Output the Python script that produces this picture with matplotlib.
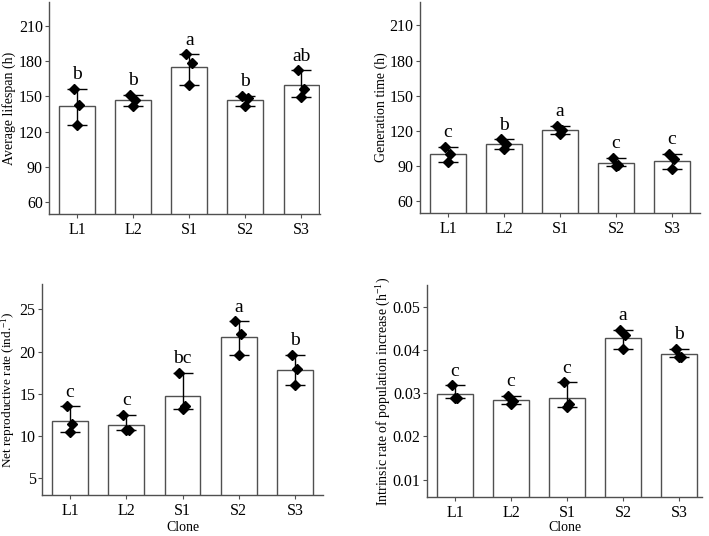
import numpy as np
import matplotlib
matplotlib.use('Agg')
import matplotlib.pyplot as plt
from matplotlib.transforms import blended_transform_factory

plt.rcParams['font.family'] = ['Liberation Serif', 'DejaVu Serif']
plt.rcParams['mathtext.default'] = 'regular'

clones = ['L1', 'L2', 'S1', 'S2', 'S3']

# replicate values (3 per clone)
lifespan = [[156.2, 142.8, 125.8],
            [151.4, 146.5, 141.4],
            [185.5, 178.4, 159.9],
            [150.5, 148.5, 141.4],
            [172.1, 156.2, 149.1]]
lifespan_letters = ['b', 'b', 'a', 'b', 'ab']

gentime = [[106.3, 100.0, 93.5],
           [112.9, 109.2, 104.9],
           [124.2, 121.1, 117.7],
           [97.3, 90.7, 90.1],
           [100.7, 96.1, 87.3]]
gentime_letters = ['c', 'b', 'a', 'c', 'c']

netrep = [[13.5, 11.4, 10.5],
          [12.5, 10.7, 10.7],
          [17.5, 13.5, 13.2],
          [23.6, 22.1, 19.6],
          [19.6, 17.9, 16.0]]
netrep_letters = ['c', 'c', 'bc', 'a', 'b']

intrinsic = [[0.0318, 0.0289, 0.0289],
             [0.0294, 0.0283, 0.0275],
             [0.0325, 0.0275, 0.0269],
             [0.0446, 0.0435, 0.0402],
             [0.0403, 0.0384, 0.0383]]
intrinsic_letters = ['c', 'c', 'c', 'a', 'b']

jitter = [-0.06, 0.04, 0.0]
edge = '#505050'

W, H = 709, 536
fig = plt.figure(figsize=(W / 100, H / 100), dpi=100)


def do_panel(ax, reps, letters, ylabel, ylim, yticks, xlim, label_x,
             fmt=None, xlabel=None, label_size=10):
    reps = np.array(reps)
    x = np.arange(len(clones))
    means = reps.mean(axis=1)
    lo = means - reps.min(axis=1)
    hi = reps.max(axis=1) - means
    ax.bar(x, means, width=0.64, color='white', edgecolor=edge, linewidth=1.0, zorder=1)
    ax.errorbar(x, means, yerr=[lo, hi], fmt='none', ecolor='black',
                elinewidth=1.0, capsize=7, capthick=1.0, zorder=2)
    for i in range(len(clones)):
        ax.plot(x[i] + np.array(jitter), reps[i], 'D', color='black',
                markersize=4.8, zorder=3, clip_on=False)
        ax.annotate(letters[i], (x[i], reps[i].max()), xytext=(0, 4),
                    textcoords='offset points', ha='center', va='bottom',
                    fontsize=14)
    ax.set_xlim(*xlim)
    ax.set_ylim(*ylim)
    ax.set_yticks(yticks)
    if fmt:
        ax.set_yticklabels([fmt.format(t) for t in yticks])
    ax.set_xticks(x)
    ax.set_xticklabels(clones)
    ax.set_ylabel(ylabel, fontsize=label_size)
    ax.yaxis.set_label_coords(label_x / W, 0.5,
                              transform=blended_transform_factory(fig.transFigure, ax.transAxes))
    if xlabel:
        ax.set_xlabel(xlabel, fontsize=10)
        ax.xaxis.set_label_coords(0.5, 1 - 521 / H,
                                  transform=blended_transform_factory(ax.transAxes, fig.transFigure))
    for s in ['top', 'right']:
        ax.spines[s].set_visible(False)
    for s in ['left', 'bottom']:
        ax.spines[s].set_color(edge)
        ax.spines[s].set_linewidth(1.0)
    ax.tick_params(axis='both', labelsize=11.5, length=3, width=0.8, color=edge)
    ax.tick_params(axis='x', pad=3)
    ax.tick_params(axis='y', pad=1.5)


def box(l, r, t, b):
    return [l / W, 1 - b / H, (r - l) / W, (b - t) / H]


ax1 = fig.add_axes(box(49, 320, 2, 214))
ax2 = fig.add_axes(box(420, 700, 2, 213))
ax3 = fig.add_axes(box(42, 323, 284, 495))
ax4 = fig.add_axes(box(427, 702, 285, 497))

do_panel(ax1, lifespan, lifespan_letters, 'Average lifespan (h)',
         (50, 230), np.arange(60, 211, 30), (-0.5, 4.33), 16)
do_panel(ax2, gentime, gentime_letters, 'Generation time (h)',
         (50, 230), np.arange(60, 211, 30), (-0.5, 4.5), 388)
do_panel(ax3, netrep, netrep_letters, r'Net reproductive rate (ind.$^{-1}$)',
         (3, 28), np.arange(5, 26, 5), (-0.5, 4.5), 17, xlabel='Clone',
         label_size=9.5)
do_panel(ax4, intrinsic, intrinsic_letters,
         r'Intrinsic rate of population increase (h$^{-1}$)',
         (0.006, 0.055), [0.01, 0.02, 0.03, 0.04, 0.05], (-0.5, 4.41), 393,
         fmt='{:.2f}', xlabel='Clone')

fig.savefig('out.png', dpi=100)
